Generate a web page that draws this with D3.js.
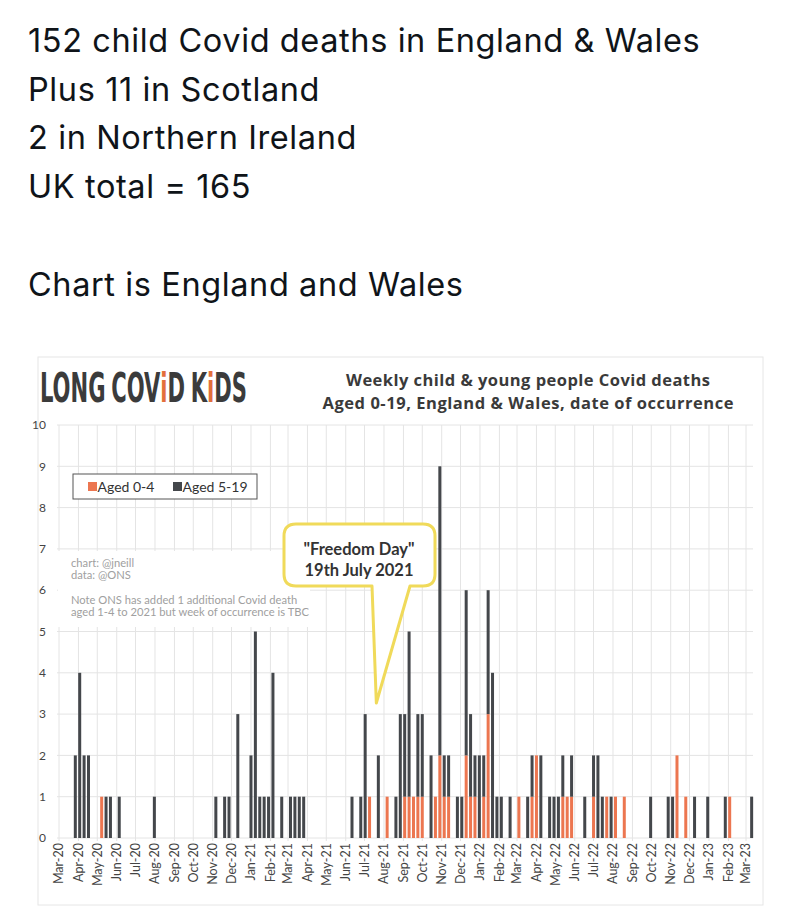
<!DOCTYPE html>
<html>
<head>
<meta charset="utf-8">
<script src="https://cdn.jsdelivr.net/npm/d3@7"></script>
<style>
body { margin: 0; background: #fff; }
</style>
</head>
<body>
<svg id="chart" width="801" height="916"></svg>
<script>
// tweet text above the chart
var headline = ["152 child Covid deaths in England & Wales", "Plus 11 in Scotland", "2 in Northern Ireland", "UK total = 165", "", "Chart is England and Wales"];

var titleLines = ["Weekly child & young people Covid deaths", "Aged 0-19, England & Wales, date of occurrence"];
var noteLines = ["chart: @jneill", "data: @ONS", "", "Note ONS has added 1 additional Covid death", "aged 1-4 to 2021 but week of occurrence is TBC"];
var calloutLines = ["\"Freedom Day\"", "19th July 2021"];

// weeks with at least one death (week ending, Friday)
var weekEnding = [
  "2020-03-27","2020-04-03","2020-04-10","2020-04-17","2020-05-08","2020-05-15","2020-05-22","2020-06-05","2020-07-31",
  "2020-11-06","2020-11-20","2020-11-27","2020-12-11","2021-01-01","2021-01-08","2021-01-15","2021-01-22","2021-01-29",
  "2021-02-05","2021-02-19","2021-03-05","2021-03-12","2021-03-19","2021-03-26","2021-06-11","2021-06-25","2021-07-02",
  "2021-07-09","2021-07-23","2021-08-06","2021-08-20","2021-08-27","2021-09-03","2021-09-10","2021-09-17","2021-09-24",
  "2021-10-01","2021-10-15","2021-10-22","2021-10-29","2021-11-05","2021-11-12","2021-11-26","2021-12-03","2021-12-10",
  "2021-12-17","2021-12-24","2021-12-31","2022-01-07","2022-01-14","2022-01-21","2022-01-28","2022-02-04","2022-02-18",
  "2022-03-04","2022-03-18","2022-03-25","2022-04-01","2022-04-08","2022-04-22","2022-04-29","2022-05-06","2022-05-13",
  "2022-05-20","2022-05-27","2022-06-17","2022-07-01","2022-07-08","2022-07-15","2022-07-22","2022-07-29","2022-08-05",
  "2022-08-19","2022-09-30","2022-10-28","2022-11-04","2022-11-11","2022-11-25","2022-12-09","2022-12-30","2023-01-27",
  "2023-02-03","2023-03-10"
];
var aged0to4 = [
  0,0,0,0,1,0,0,0,0,
  0,0,0,0,0,0,0,0,0,
  0,0,0,0,0,0,0,0,0,
  1,0,1,0,0,1,1,1,1,
  1,0,1,2,1,1,0,0,2,
  1,1,0,1,3,0,0,0,0,
  1,0,1,2,0,0,0,0,1,
  1,1,0,1,0,0,1,0,1,
  1,0,0,0,2,1,0,0,0,
  1,0
];
var aged5to19 = [
  2,4,2,2,0,1,1,1,1,
  1,1,1,3,2,5,1,1,1,
  4,1,1,1,1,1,1,1,3,
  0,2,0,1,3,2,4,0,2,
  2,2,0,7,1,1,1,1,4,
  2,1,2,1,3,4,1,1,1,
  0,1,1,0,2,1,1,1,1,
  0,1,1,1,2,1,0,1,0,
  0,1,1,1,0,0,1,1,1,
  0,1
];

var seriesNames = ["Aged 0-4", "Aged 5-19"];
var seriesColors = ["#ec7650", "#44474b"];
var yTicks = [0, 1, 2, 3, 4, 5, 6, 7, 8, 9, 10];

var svg = d3.select("#chart");
var parse = d3.utcParse("%Y-%m-%d");

// headline text
svg.append("g").selectAll("text")
  .data(headline)
  .enter().append("text")
  .attr("x", 28)
  .attr("y", (d, i) => 52 + i * 48.7)
  .attr("font-family", "Inter, 'Liberation Sans', sans-serif")
  .attr("font-size", 32.5)
  .attr("letter-spacing", 0.6)
  .attr("fill", "#0f1419")
  .text(d => d);

// chart card
svg.append("rect")
  .attr("x", 38).attr("y", 357)
  .attr("width", 725).attr("height", 548)
  .attr("fill", "#fff")
  .attr("stroke", "#e6e6e6");

var x = d3.scaleUtc()
  .domain([Date.UTC(2020, 2, 1), Date.UTC(2023, 2, 1)])
  .range([59, 746]);

var y = d3.scaleLinear()
  .domain([0, 10])
  .range([838, 425]);

var months = d3.utcMonth.range(Date.UTC(2020, 2, 1), Date.UTC(2023, 2, 2));

// gridlines
svg.append("g").selectAll("line")
  .data(yTicks)
  .enter().append("line")
  .attr("x1", 57).attr("x2", 753)
  .attr("y1", d => y(d)).attr("y2", d => y(d))
  .attr("stroke", "#e4e4e4");

svg.append("g").selectAll("line")
  .data(months)
  .enter().append("line")
  .attr("x1", d => x(d)).attr("x2", d => x(d))
  .attr("y1", y(10)).attr("y2", y(0) + 3)
  .attr("stroke", "#e4e4e4");

// y labels
svg.append("g").selectAll("text")
  .data(yTicks)
  .enter().append("text")
  .attr("x", 46)
  .attr("y", d => y(d))
  .attr("dy", "0.35em")
  .attr("text-anchor", "end")
  .attr("font-family", "Lato, sans-serif")
  .attr("font-size", 12)
  .attr("fill", "#444")
  .text(d => d);

// x labels
var fmt = d3.utcFormat("%b-%y");
svg.append("g").selectAll("text")
  .data(months)
  .enter().append("text")
  .attr("transform", d => "translate(" + x(d) + "," + (y(0) + 5) + ") rotate(-90)")
  .attr("dy", "0.35em")
  .attr("text-anchor", "end")
  .attr("font-family", "Lato, sans-serif")
  .attr("font-size", 12.5)
  .attr("fill", "#444")
  .text(d => fmt(d));

// white note box
svg.append("rect")
  .attr("x", 58).attr("y", 551)
  .attr("width", 252).attr("height", 76)
  .attr("fill", "#fff");

svg.append("g").selectAll("text")
  .data(noteLines)
  .enter().append("text")
  .attr("x", 71)
  .attr("y", (d, i) => 567 + i * 12.2)
  .attr("font-family", "Lato, sans-serif")
  .attr("font-size", 11.2)
  .attr("fill", "#a0a0a0")
  .text(d => d);

// stacked bars
var table = weekEnding.map((d, i) => ({ date: parse(d), a: aged0to4[i], b: aged5to19[i] }));
var stacked = d3.stack().keys(["a", "b"])(table);
var barW = 3;

svg.append("g").selectAll("g")
  .data(stacked)
  .enter().append("g")
  .attr("fill", (d, i) => seriesColors[i])
  .selectAll("rect")
  .data(d => d.filter(p => p[1] > p[0]))
  .enter().append("rect")
  .attr("x", d => x(d.data.date) - barW / 2)
  .attr("width", barW)
  .attr("y", d => y(d[1]))
  .attr("height", d => y(d[0]) - y(d[1]));

// legend
var lg = svg.append("g");
lg.append("rect")
  .attr("x", 73).attr("y", 474)
  .attr("width", 184).attr("height", 25)
  .attr("fill", "#fff")
  .attr("stroke", "#555");
[88, 173].forEach((lx, i) => {
  lg.append("rect")
    .attr("x", lx).attr("y", 482)
    .attr("width", 9).attr("height", 9)
    .attr("fill", seriesColors[i]);
  lg.append("text")
    .attr("x", lx + 9.5).attr("y", 491.5)
    .attr("font-family", "Lato, sans-serif")
    .attr("font-size", 14)
    .attr("fill", "#333")
    .text(seriesNames[i]);
});

// callout
var cl = 284, ct = 524, cr = 435, cb = 586, r = 12;
var bubble = d3.path();
bubble.moveTo(cl + r, ct);
bubble.lineTo(cr - r, ct);
bubble.quadraticCurveTo(cr, ct, cr, ct + r);
bubble.lineTo(cr, cb - r);
bubble.quadraticCurveTo(cr, cb, cr - r, cb);
bubble.lineTo(410, cb);
bubble.lineTo(x(parse("2021-07-19")) + 0.5, 703);
bubble.lineTo(372, cb);
bubble.lineTo(cl + r, cb);
bubble.quadraticCurveTo(cl, cb, cl, cb - r);
bubble.lineTo(cl, ct + r);
bubble.quadraticCurveTo(cl, ct, cl + r, ct);
bubble.closePath();
svg.append("path")
  .attr("d", bubble.toString())
  .attr("fill", "#fff")
  .attr("stroke", "#f0da5a")
  .attr("stroke-width", 3)
  .attr("stroke-linejoin", "round");

svg.append("g").selectAll("text")
  .data(calloutLines)
  .enter().append("text")
  .attr("x", 359)
  .attr("y", (d, i) => 555 + i * 21)
  .attr("text-anchor", "middle")
  .attr("font-family", "Lato, sans-serif")
  .attr("font-weight", "bold")
  .attr("font-size", 16.5)
  .attr("fill", "#333")
  .text(d => d);

// title
var titleWidths = [364, 411];
svg.append("g").selectAll("text")
  .data(titleLines)
  .enter().append("text")
  .attr("x", 528)
  .attr("y", (d, i) => 386 + i * 23)
  .attr("text-anchor", "middle")
  .attr("font-family", "'Open Sans', Lato, sans-serif")
  .attr("font-weight", "bold")
  .attr("font-size", 16.5)
  .attr("textLength", (d, i) => titleWidths[i])
  .attr("fill", "#3a3a3a")
  .text(d => d);

// logo: pieces laid side by side, then squeezed to the logo width
var logoParts = [["LONG", 0], ["COV", 1], ["i", 2], ["D", 3], ["K", 1], ["i", 2], ["DS", 3]];
var logo = svg.append("g");
var cx = 0;
logoParts.forEach(p => {
  if (p[1] === 1) cx += 10;
  var t = logo.append("text")
    .attr("x", cx).attr("y", 0)
    .attr("font-family", "'DejaVu Sans Condensed', sans-serif")
    .attr("font-weight", "bold")
    .attr("font-size", 41)
    .attr("fill", p[1] === 2 ? "#e36f3c" : "#3b3b3b")
    .text(p[0]);
  cx += t.node().getComputedTextLength();
});
logo.attr("transform", "translate(40,402) scale(" + (207 / cx) + ",1)");
</script>
</body>
</html>
